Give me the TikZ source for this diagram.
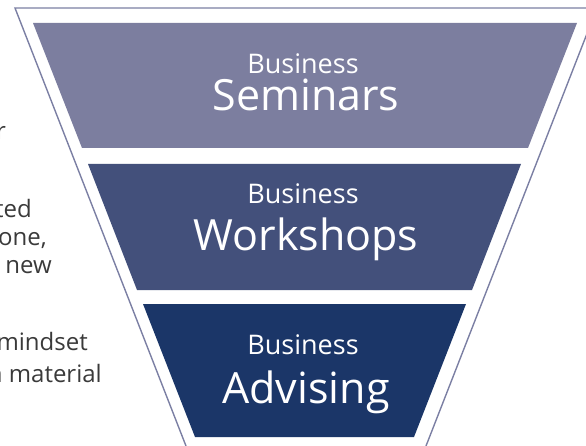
\documentclass[tikz,border=0pt]{standalone}
\usepackage{fontspec}
\setmainfont{Open Sans}
\definecolor{bandA}{HTML}{7C7E9F}
\definecolor{bandB}{HTML}{43507B}
\definecolor{bandC}{HTML}{1B3668}
\definecolor{rim}{HTML}{7B7FA3}
\definecolor{bodytext}{HTML}{3A3A3A}

\begin{document}
\begin{tikzpicture}[x=1pt,y=-1pt,
    small/.style={text=white,inner sep=0pt,anchor=base,font=\fontsize{27}{30}\selectfont},
    big/.style={text=white,inner sep=0pt,anchor=base,font=\fontsize{43}{48}\selectfont},
    side/.style={text=bodytext,inner sep=0pt,anchor=base east,font=\fontsize{24}{28}\selectfont}]
      \useasboundingbox (0,0) rectangle (586,446);
      \clip (0,0) rectangle (586,446);
      % Tratt
      \draw[rim,line width=1.4pt] (186,446) -- (15,8) -- (597,8) -- (426,446);
      % Band
      \fill[bandA] (33,23) -- (577,23) -- (528,148) -- (82,148) -- cycle;
      \fill[bandB] (88,164) -- (521,164) -- (472,290) -- (137,290) -- cycle;
      \fill[bandC] (143,304) -- (466,304) -- (414,437) -- (195,437) -- cycle;
      % Rubriker
      \foreach \name/\ya/\yb/\word in {sem/74/111/Seminars,wor/204/251/Workshops,adv/354/403/Advising} {
        \node[small] (\name-top) at (303,\ya) {Business};
        \node[big] (\name) at (306,\yb) {\word};
      }
      % Sidotext
      \foreach \n/\x/\y/\t in {1/6/140/r,2/32/218/ted,3/47/246/{one,},4/52/273/new,5/88/350/mindset,6/102/382/n material}
        \node[side] (side\n) at (\x,\y) {\t};
    \end{tikzpicture}
\end{document}
